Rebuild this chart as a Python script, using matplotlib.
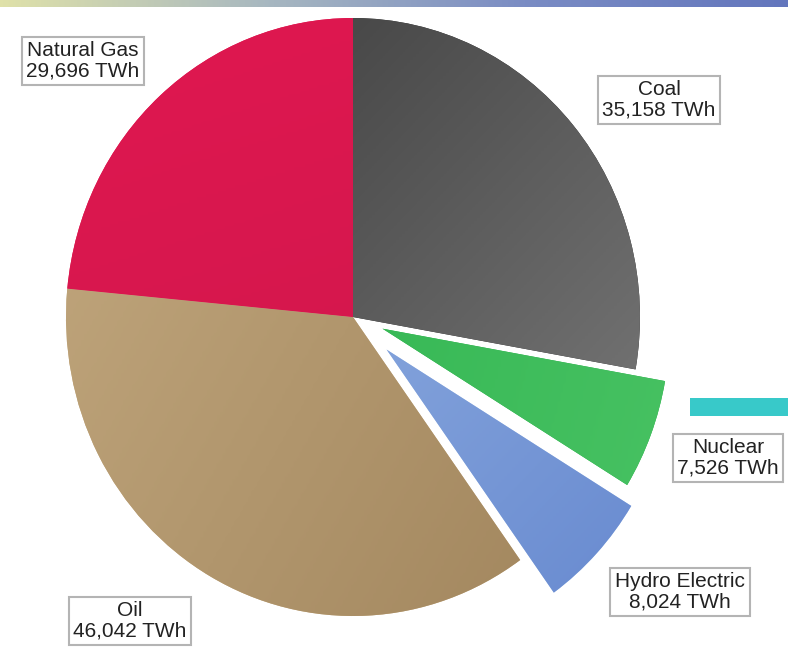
import matplotlib
matplotlib.use("Agg")
import matplotlib.pyplot as plt
import numpy as np
from matplotlib.colors import LinearSegmentedColormap

# world energy consumption by source
labels = ["Coal", "Nuclear", "Hydro Electric", "Oil", "Natural Gas"]
values = [35158, 7526, 8024, 46042, 29696]
explode = [0, 0.11, 0.16, 0, 0]

# gradient colours per slice (start, end) and gradient direction
grad_colors = [
    ("#2c2c2c", "#8a8a8a"),
    ("#22ad45", "#4cc466"),
    ("#aac6ec", "#5f82cc"),
    ("#c8ae84", "#9a7e56"),
    ("#e31851", "#c8164a"),
]
grad_dirs = [(1, -1), (1, -0.3), (1, -1), (1, -0.6), (0.3, -1)]

# label box centres in pixels
label_pos = [(659, 100), (728, 458), (680, 592), (130, 621), (83, 61)]

W, H = 788, 665
cx, cy = 353, 317
rx, ry = 287, 299

fig = plt.figure(figsize=(W / 100, H / 100), dpi=100)
fig.patch.set_facecolor("white")

# pie axes, unit radius stretched to rx/ry pixels
ax = fig.add_axes([0, 0, 1, 1])
wedges, _ = ax.pie(values, startangle=90, counterclock=False, explode=explode,
                   radius=1, center=(0, 0), frame=True,
                   wedgeprops=dict(linewidth=0))
ax.set_xlim(-cx / rx, (W - cx) / rx)
ax.set_ylim(-(H - cy) / ry, cy / ry)
ax.set_aspect("auto")
ax.axis("off")

n = 256
for w, (c0, c1), (dx, dy) in zip(wedges, grad_colors, grad_dirs):
    cm = LinearSegmentedColormap.from_list("g", [c0, c1])
    w.set_facecolor(c0)
    xx, yy = np.meshgrid(np.linspace(-1.3, 1.3, n), np.linspace(1.3, -1.3, n))
    g = xx * dx + yy * dy
    g = (g - g.min()) / (g.max() - g.min())
    im = ax.imshow(g, cmap=cm, extent=(-1.3, 1.3, -1.3, 1.3), aspect="auto",
                   interpolation="bilinear", zorder=2)
    im.set_clip_path(w)

# overlay axes in pixel coordinates
ov = fig.add_axes([0, 0, 1, 1])
ov.set_xlim(0, W)
ov.set_ylim(H, 0)
ov.axis("off")
ov.patch.set_alpha(0)

band = LinearSegmentedColormap.from_list("band", ["#dfe1a9", "#a8b8c0", "#7a8cc4", "#6376bd"])
ov.imshow(np.linspace(0, 1, 400).reshape(1, -1), cmap=band, extent=(0, W, 7, 0),
          aspect="auto")
ov.add_patch(plt.Rectangle((690, 398), 98, 18, facecolor="#38c9c9", edgecolor="none"))

for lab, val, (px, py) in zip(labels, values, label_pos):
    ov.text(px, py, f"{lab}\n{val:,} TWh", ha="center", va="center",
            fontsize=15, family=["Liberation Sans", "DejaVu Sans"], color="#222222",
            linespacing=1.1,
            bbox=dict(boxstyle="square,pad=0.22", facecolor="white",
                      edgecolor="#b4b4b4", linewidth=1.5))

ov.set_xlim(0, W)
ov.set_ylim(H, 0)
fig.savefig("out.png", dpi=100)
